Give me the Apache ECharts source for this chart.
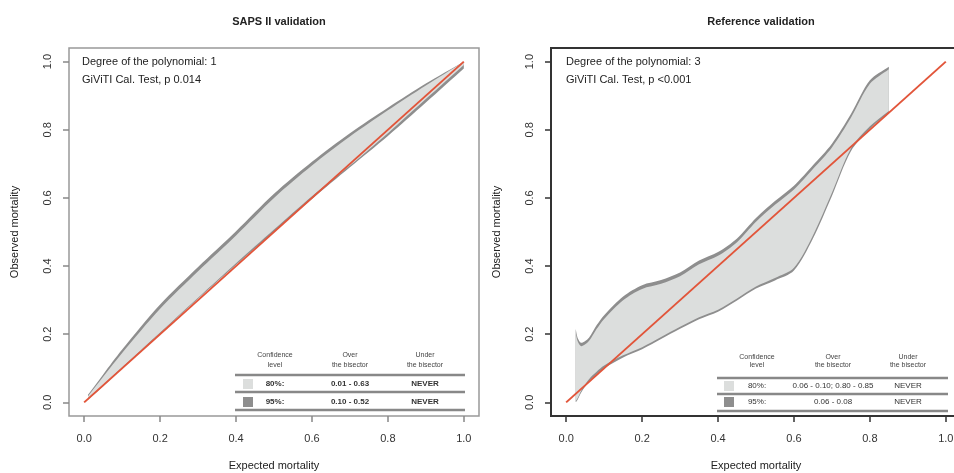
<!DOCTYPE html>
<html>
<head>
<meta charset="utf-8">
<script src="https://cdn.jsdelivr.net/npm/echarts@6/dist/echarts.min.js"></script>
<style>
  html, body { margin: 0; padding: 0; background: #fff; }
  #main { width: 954px; height: 473px; }
</style>
</head>
<body>
<div id="main"></div>
<script>
// tick values shared by both panels
var tickValues = [0, 0.2, 0.4, 0.6, 0.8, 1.0];
var bisector = [[0, 0], [1, 1]];

// SAPS II belt (degree 1)
var leftX        = [0.01, 0.05, 0.1, 0.2, 0.3, 0.4, 0.5, 0.6, 0.7, 0.8, 0.9, 1.0];
var left80Upper  = [0.018, 0.075, 0.145, 0.275, 0.385, 0.49, 0.6, 0.695, 0.78, 0.857, 0.93, 1.0];
var left80Lower  = [0.012, 0.052, 0.103, 0.205, 0.307, 0.408, 0.507, 0.605, 0.695, 0.79, 0.89, 0.99];
var left95Upper  = [0.022, 0.082, 0.155, 0.287, 0.397, 0.502, 0.612, 0.706, 0.79, 0.865, 0.936, 1.0];
var left95Lower  = [0.008, 0.047, 0.1, 0.202, 0.304, 0.404, 0.501, 0.597, 0.69, 0.782, 0.88, 0.98];

// Reference belt (degree 3)
var rightX       = [0.025, 0.03, 0.04, 0.06, 0.08, 0.1, 0.15, 0.2, 0.25, 0.3, 0.35, 0.4, 0.45, 0.5, 0.55, 0.6, 0.65, 0.7, 0.75, 0.8, 0.85];
var right80Upper = [0.205, 0.18, 0.165, 0.18, 0.215, 0.245, 0.3, 0.333, 0.348, 0.37, 0.405, 0.43, 0.47, 0.53, 0.58, 0.625, 0.685, 0.748, 0.835, 0.935, 0.978];
var right80Lower = [0.003, 0.012, 0.035, 0.068, 0.09, 0.108, 0.138, 0.162, 0.192, 0.222, 0.25, 0.272, 0.305, 0.34, 0.365, 0.395, 0.49, 0.615, 0.745, 0.81, 0.855];
var right95Upper = [0.215, 0.19, 0.175, 0.19, 0.226, 0.256, 0.311, 0.344, 0.359, 0.381, 0.416, 0.441, 0.481, 0.541, 0.591, 0.636, 0.696, 0.759, 0.846, 0.945, 0.985];
var right95Lower = [0.0, 0.008, 0.03, 0.061, 0.081, 0.1, 0.132, 0.156, 0.186, 0.216, 0.244, 0.266, 0.299, 0.334, 0.358, 0.387, 0.481, 0.606, 0.737, 0.803, 0.85];

// legend tables
var legendHead = [['Confidence', 'level'], ['Over', 'the bisector'], ['Under', 'the bisector']];
var leftRows   = [['80%:', '0.01 - 0.63', 'NEVER'], ['95%:', '0.10 - 0.52', 'NEVER']];
var rightRows  = [['80%:', '0.06 - 0.10; 0.80 - 0.85', 'NEVER'], ['95%:', '0.06 - 0.08', 'NEVER']];

var FONT = '"Liberation Sans", Arial, sans-serif';
var LIGHT = '#dcdedd', DARK = '#8e8e8e', RED = '#e2553a';

function belt(xs, up, lo, color, gi) {
    return {
        type: 'custom',
        xAxisIndex: gi, yAxisIndex: gi,
        data: [0],
        silent: true,
        renderItem: function (params, api) {
            var pts = [];
            for (var i = 0; i < xs.length; i++) pts.push(api.coord([xs[i], up[i]]));
            for (var j = xs.length - 1; j >= 0; j--) pts.push(api.coord([xs[j], lo[j]]));
            // repeat the four corners so the end edges stay straight when smoothed
            var n = xs.length, out = [];
            pts.forEach(function (p, k) {
                out.push(p);
                if (k === 0 || k === n - 1 || k === n || k === 2 * n - 1) out.push(p);
            });
            return { type: 'polygon', shape: { points: out, smooth: 0.3 }, style: { fill: color } };
        }
    };
}

function xAx(gi, col) {
    return {
        gridIndex: gi, type: 'value', min: -0.04, max: 1.04,
        name: 'Expected mortality', nameLocation: 'middle', nameGap: 44,
        nameTextStyle: { fontFamily: FONT, fontSize: 11, color: '#222' },
        axisLine: { show: false, onZero: false }, splitLine: { show: false },
        axisTick: { customValues: tickValues, length: 6, lineStyle: { color: col, width: 1.5 } },
        axisLabel: { customValues: tickValues, margin: 17, fontFamily: FONT, fontSize: 11, color: '#333',
                     formatter: function (v) { return v.toFixed(1); } }
    };
}
function yAx(gi, col) {
    return {
        gridIndex: gi, type: 'value', min: -0.04, max: 1.04,
        name: 'Observed mortality', nameLocation: 'middle', nameGap: 49,
        nameTextStyle: { fontFamily: FONT, fontSize: 11, color: '#222' },
        axisLine: { show: false, onZero: false }, splitLine: { show: false },
        axisTick: { customValues: tickValues, length: 6, lineStyle: { color: col, width: 1.5 } },
        axisLabel: { customValues: tickValues, rotate: 90, margin: 16, fontFamily: FONT, fontSize: 11, color: '#333',
                     formatter: function (v) { return v.toFixed(1); } }
    };
}

function table(x0, x1, cols, sw, lineY, headY, rowY, rows, bold) {
    var g = [];
    lineY.forEach(function (y) {
        g.push({ type: 'line', shape: { x1: x0, y1: y, x2: x1, y2: y }, style: { stroke: '#888', lineWidth: 2.5 } });
    });
    legendHead.forEach(function (h, c) {
        h.forEach(function (t, k) {
            g.push({ type: 'text', x: cols[c], y: headY[k], style: { text: t, font: '7px ' + FONT, fill: '#444', align: 'center', verticalAlign: 'middle' } });
        });
    });
    rows.forEach(function (r, k) {
        g.push({ type: 'rect', shape: { x: sw - 5, y: rowY[k] - 5, width: 10, height: 10 }, style: { fill: k === 0 ? LIGHT : DARK } });
        r.forEach(function (t, c) {
            g.push({ type: 'text', x: cols[c], y: rowY[k], style: { text: t, font: (bold ? 'bold ' : '') + '8px ' + FONT, fill: '#333', align: 'center', verticalAlign: 'middle' } });
        });
    });
    return g;
}

function note(x, lines) {
    return lines.map(function (t, k) {
        return { type: 'text', x: x, y: 62 + k * 18, style: { text: t, font: '11px ' + FONT, fill: '#222', verticalAlign: 'middle' } };
    });
}

var myChart = echarts.init(document.getElementById('main'));

var graphics = []
    .concat(table(235, 465, [275, 350, 425], 248, [375, 392, 410], [355, 365], [384, 402], leftRows, true))
    .concat(table(717, 948, [757, 833, 908], 729, [378, 394, 411], [357, 365], [386, 402], rightRows, false))
    .concat(note(82, ['Degree of the polynomial: 1', 'GiViTI Cal. Test, p 0.014']))
    .concat(note(566, ['Degree of the polynomial: 3', 'GiViTI Cal. Test, p <0.001']));

var option = {
    backgroundColor: '#fff',
    animation: false,
    title: [
        { text: 'SAPS II validation', left: 274, top: 11, textAlign: 'center',
          textStyle: { fontFamily: FONT, fontSize: 11, fontWeight: 'bold', color: '#222' } },
        { text: 'Reference validation', left: 756, top: 11, textAlign: 'center',
          textStyle: { fontFamily: FONT, fontSize: 11, fontWeight: 'bold', color: '#222' } }
    ],
    grid: [
        { left: 69, top: 48, width: 410, height: 368, show: true, borderColor: '#999', borderWidth: 1.5, outerBoundsMode: 'none' },
        { left: 551, top: 48, width: 410, height: 368, show: true, borderColor: '#333', borderWidth: 2, outerBoundsMode: 'none' }
    ],
    xAxis: [xAx(0, '#888'), xAx(1, '#333')],
    yAxis: [yAx(0, '#888'), yAx(1, '#333')],
    series: [
        belt(leftX, left95Upper, left95Lower, DARK, 0),
        belt(leftX, left80Upper, left80Lower, LIGHT, 0),
        { type: 'line', xAxisIndex: 0, yAxisIndex: 0, data: bisector, symbol: 'none',
          lineStyle: { color: RED, width: 2 } },
        belt(rightX, right95Upper, right95Lower, DARK, 1),
        belt(rightX, right80Upper, right80Lower, LIGHT, 1),
        { type: 'line', xAxisIndex: 1, yAxisIndex: 1, data: bisector, symbol: 'none',
          lineStyle: { color: RED, width: 2 } }
    ],
    graphic: graphics
};

myChart.setOption(option);
</script>
</body>
</html>
